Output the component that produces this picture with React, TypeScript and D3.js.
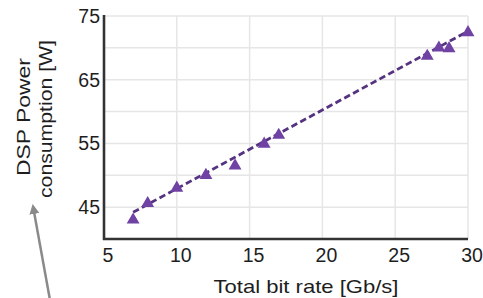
import React from "react";
import * as d3 from "d3";

const bitRate = [7, 8, 10, 12, 14, 16, 17, 27.2, 28, 28.7, 30];
const power = [43, 45.6, 48.0, 50.0, 51.5, 54.9, 56.3, 68.7, 70.0, 69.9, 72.4];
const fitX = [7, 30];
const fitY = [44.2, 72.6];
const xTicks = [5, 10, 15, 20, 25, 30];
const yTicks = [45, 55, 65, 75];
const yGrid = [45, 50, 55, 60, 65, 70, 75];
const xGrid = [10, 15, 20, 25, 30];

export default function App() {
  const W = 483, H = 298;
  const x = d3.scaleLinear().domain([5, 30]).range([104, 468]);
  const y = d3.scaleLinear().domain([40, 75]).range([239, 16]);
  const font = "'Liberation Sans', Arial, sans-serif";
  const line = d3.line<number>().x((d, i) => x(fitX[i])).y((d) => y(d));
  const tri = d3.symbol().type(d3.symbolTriangle).size(72)();
  return (
    <svg width={W} height={H} style={{ position: "absolute", left: 0, top: 0, background: "#fff" }}>
      <defs>
        <marker id="ah" viewBox="0 0 10 10" refX="5" refY="5" markerWidth="4" markerHeight="4" orient="auto-start-reverse">
          <path d="M0,0 L10,5 L0,10 z" fill="#8a8a8a" />
        </marker>
      </defs>
      {yGrid.map((v) => (
        <line key={"yg" + v} x1={x(5)} x2={x(30)} y1={y(v)} y2={y(v)} stroke="#e6e6e6" strokeWidth={1.5} />
      ))}
      {xGrid.map((v) => (
        <line key={"xg" + v} x1={x(v)} x2={x(v)} y1={y(75)} y2={y(40)} stroke="#e6e6e6" strokeWidth={1.5} />
      ))}
      <line x1={x(5)} x2={x(5)} y1={y(75) - 1} y2={y(40) + 1} stroke="#333" strokeWidth={2.6} />
      <line x1={x(5) - 1} x2={x(30)} y1={y(40)} y2={y(40)} stroke="#333" strokeWidth={2.6} />
      <path d={line(fitY) || ""} fill="none" stroke="#553381" strokeWidth={2.8} strokeDasharray="6.5,3.5" />
      {bitRate.map((b, i) => (
        <path key={"p" + i} d={tri || ""} transform={`translate(${x(b)},${y(power[i])})`} fill="#6f42a3" />
      ))}
      {yTicks.map((v) => (
        <text key={"yt" + v} x={100} y={y(v)} dy="0.36em" textAnchor="end" fontFamily={font} fontSize={19.5} fill="#1e1e1e">
          {v}
        </text>
      ))}
      {xTicks.map((v) => (
        <text key={"xt" + v} x={x(v) + 4} y={262} textAnchor="middle" fontFamily={font} fontSize={19.5} fill="#1e1e1e">
          {v}
        </text>
      ))}
      <text x={306} y={293} textAnchor="middle" fontFamily={font} fontSize={18.5} fill="#1e1e1e" textLength={185} lengthAdjust="spacingAndGlyphs">
        Total bit rate [Gb/s]
      </text>
      <text transform="translate(30,117) rotate(-90)" textAnchor="middle" fontFamily={font} fontSize={18.5} fill="#1e1e1e" textLength={118} lengthAdjust="spacingAndGlyphs">
        DSP Power
      </text>
      <text transform="translate(52,119) rotate(-90)" textAnchor="middle" fontFamily={font} fontSize={18.5} fill="#1e1e1e" textLength={158} lengthAdjust="spacingAndGlyphs">
        consumption [W]
      </text>
      <line x1={50} y1={300} x2={33.5} y2={209} stroke="#8a8a8a" strokeWidth={2.5} markerEnd="url(#ah)" />
    </svg>
  );
}
